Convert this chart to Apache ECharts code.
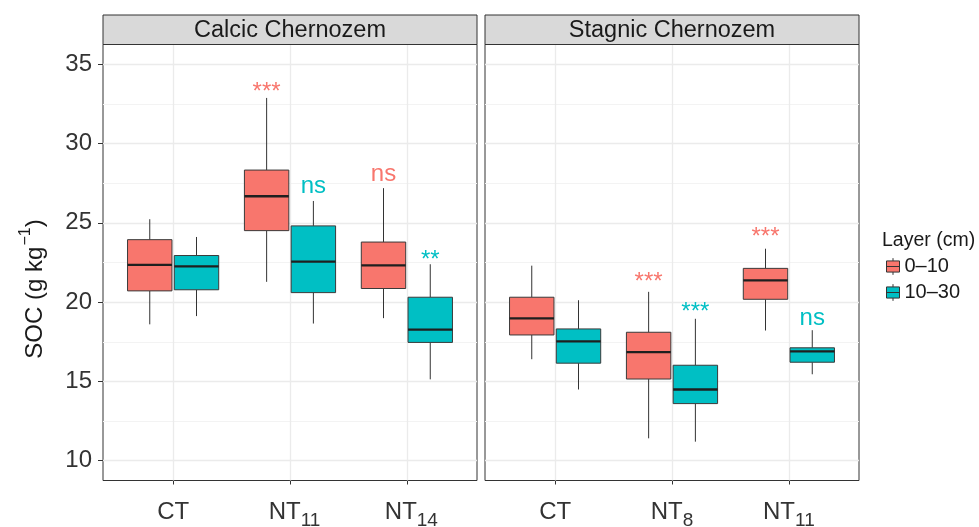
<!DOCTYPE html>
<html><head><meta charset="utf-8">
<script src="https://cdn.jsdelivr.net/npm/echarts@6/dist/echarts.min.js"></script>
<style>html,body{margin:0;padding:0;background:#fff}#c{width:979px;height:527px}</style>
</head><body><div id="c"></div>
<script>
// ---------------- data ----------------
const panels = ['Calcic Chernozem', 'Stagnic Chernozem'];
const categoriesCalcic = ['CT', 'NT11', 'NT14'];
const categoriesStagnic = ['CT', 'NT8', 'NT11'];
const layers = ['0–10', '10–30'];
// each box: [whisker low, Q1, median, Q3, whisker high]
const calcic0_10  = [[18.60, 20.71, 22.35, 23.94, 25.23], [21.28, 24.51, 26.68, 28.33, 32.88], [18.99, 20.86, 22.32, 23.79, 27.19]];
const calcic10_30 = [[19.12, 20.78, 22.26, 22.94, 24.11], [18.65, 20.60, 22.56, 24.81, 26.38], [15.13, 17.46, 18.27, 20.31, 22.39]];
const stagnic0_10  = [[16.40, 17.93, 18.97, 20.31, 22.30], [11.41, 15.15, 16.85, 18.10, 20.65], [18.21, 20.18, 21.37, 22.13, 23.37]];
const stagnic10_30 = [[14.49, 16.15, 17.53, 18.31, 20.12], [11.20, 13.60, 14.49, 16.02, 18.95], [15.45, 16.21, 16.89, 17.12, 18.23]];
// significance labels and their y positions
const calcicSig0_10  = ['', '***', 'ns'];
const calcicSigY0_10 = [null, 33.22, 28.07];
const calcicSig10_30  = ['', 'ns', '**'];
const calcicSigY10_30 = [null, 27.30, 22.65];
const stagnicSig0_10  = ['', '***', '***'];
const stagnicSigY0_10 = [null, 21.27, 24.06];
const stagnicSig10_30  = ['', '***', 'ns'];
const stagnicSigY10_30 = [null, 19.35, 18.97];
const yTicks = [10, 15, 20, 25, 30, 35];
const yMinorTicks = [12.5, 17.5, 22.5, 27.5, 32.5];
const xTicks = [1, 2, 3];
const yTitle = 'SOC (g kg';
const legendTitle = 'Layer (cm)';

// ---------------- styling ----------------
const FONT = '"Liberation Sans", Arial, Helvetica, sans-serif';
const RED = '#F8766D', TEAL = '#00BFC4';
const DODGE = 0.2, BOX_W = 0.38;
const GRID_TOP = 44.5, GRID_H = 436;
const grids = [{left: 103, width: 374}, {left: 485, width: 374}];

function makeRender(offset, sigText, sigY, color) {
  return function (params, api) {
    const xv = api.value(0) + offset;
    const low = api.coord([xv, api.value(1)]);
    const q1 = api.coord([xv, api.value(2)]);
    const med = api.coord([xv, api.value(3)]);
    const q3 = api.coord([xv, api.value(4)]);
    const high = api.coord([xv, api.value(5)]);
    const w = api.size([BOX_W, 0])[0];
    const cx = low[0];
    const ch = [
      {type: 'line', shape: {x1: cx, y1: high[1], x2: cx, y2: q3[1]}, style: {stroke: '#333', lineWidth: 1}},
      {type: 'line', shape: {x1: cx, y1: q1[1], x2: cx, y2: low[1]}, style: {stroke: '#333', lineWidth: 1}},
      {type: 'rect', shape: {x: cx - w / 2, y: q3[1], width: w, height: q1[1] - q3[1]}, style: {fill: color, stroke: '#3a3a3a', lineWidth: 1}},
      {type: 'line', shape: {x1: cx - w / 2, y1: med[1], x2: cx + w / 2, y2: med[1]}, style: {stroke: '#1f1f1f', lineWidth: 2.3}}
    ];
    const i = params.dataIndex;
    if (sigText[i]) {
      const p = api.coord([xv, sigY[i]]);
      ch.push({type: 'text', x: cx, y: p[1], style: {text: sigText[i], fill: color, fontSize: 24, fontFamily: FONT, align: 'center', verticalAlign: 'middle'}});
    }
    return {type: 'group', children: ch};
  };
}

function boxData(arr) { return arr.map((b, i) => [i + 1].concat(b)); }

function gridLines() {
  const major = {color: '#EBEBEB', width: 1.3, type: 'solid'};
  const minor = {color: '#F3F3F3', width: 1, type: 'solid'};
  return {
    silent: true, symbol: ['none', 'none'], label: {show: false}, z: 1, animation: false,
    emphasis: {disabled: true},
    data: yMinorTicks.map(v => ({yAxis: v, lineStyle: minor}))
      .concat(yTicks.map(v => ({yAxis: v, lineStyle: major})))
      .concat(xTicks.map(v => ({xAxis: v, lineStyle: major})))
  };
}

function xLabel(cats, shiftNT) {
  return function (v) {
    const name = cats[Math.round(v) - 1];
    const m = name.match(/^([A-Z]+)(\d*)$/);
    if (!m[2]) return '{m|' + m[1] + '}';
    return '{' + (shiftNT ? 'mp' : 'm') + '|' + m[1] + '}{s|' + m[2] + '}';
  };
}
const xRich = {
  m: {fontSize: 24, fontFamily: FONT, color: '#333', lineHeight: 24, verticalAlign: 'top'},
  mp: {fontSize: 24, fontFamily: FONT, color: '#333', lineHeight: 24, verticalAlign: 'top', padding: [0, 0, 0, 9]},
  s: {fontSize: 19, fontFamily: FONT, color: '#333', lineHeight: 19, verticalAlign: 'top', padding: [11, 0, 0, 0]}
};

const xAxes = [categoriesCalcic, categoriesStagnic].map((cats, gi) => ({
  type: 'value', gridIndex: gi, min: 0.4, max: 3.6,
  axisLine: {show: false},
  axisTick: {show: true, customValues: xTicks, length: 4, lineStyle: {color: '#333', width: 1}},
  axisLabel: {show: true, customValues: xTicks, margin: 20, formatter: xLabel(cats, gi === 0), rich: xRich},
  splitLine: {show: false}
}));
const yAxes = [0, 1].map(gi => ({
  type: 'value', gridIndex: gi, min: 8.75, max: 36.25,
  axisLine: {show: false},
  axisTick: {show: gi === 0, customValues: yTicks, length: 5, lineStyle: {color: '#333', width: 1}},
  axisLabel: {show: gi === 0, customValues: yTicks, margin: 11, fontSize: 24, fontFamily: FONT, color: '#333'},
  splitLine: {show: false}
}));

const seriesSpec = [
  [0, layers[0], calcic0_10, -DODGE, calcicSig0_10, calcicSigY0_10, RED],
  [0, layers[1], calcic10_30, DODGE, calcicSig10_30, calcicSigY10_30, TEAL],
  [1, layers[0], stagnic0_10, -DODGE, stagnicSig0_10, stagnicSigY0_10, RED],
  [1, layers[1], stagnic10_30, DODGE, stagnicSig10_30, stagnicSigY10_30, TEAL]
];
const series = seriesSpec.map((s, k) => {
  const o = {
    type: 'custom', name: s[1], xAxisIndex: s[0], yAxisIndex: s[0], z: 2,
    itemStyle: {color: s[6]},
    encode: {x: 0, y: [1, 2, 3, 4, 5]},
    renderItem: makeRender(s[3], s[4], s[5], s[6]),
    data: boxData(s[2])
  };
  if (k % 2 === 0) o.markLine = gridLines();
  return o;
});

const ICON = 'path://M7,0L7,3M0,3L14,3L14,15L0,15ZM0,9L14,9M7,15L7,18';

const graphics = [];
grids.forEach((g, i) => {
  graphics.push({type: 'rect', shape: {x: g.left, y: 15, width: g.width, height: GRID_TOP - 15}, style: {fill: '#D9D9D9', stroke: '#333', lineWidth: 1}, z: 10});
  graphics.push({type: 'text', x: g.left + g.width / 2, y: 30.5, style: {text: panels[i], fontSize: 23.5, fontFamily: FONT, fill: '#1A1A1A', align: 'center', verticalAlign: 'middle'}, z: 11});
});
graphics.push({
  type: 'text', x: 27, y: 289, rotation: Math.PI / 2,
  style: {
    text: '{a|' + yTitle + '}{b|−1}{a|)}', align: 'center', verticalAlign: 'middle', fill: '#1A1A1A',
    rich: {
      a: {fontSize: 24, fontFamily: FONT, fill: '#1A1A1A', lineHeight: 24, verticalAlign: 'top', padding: [8, 0, 0, 0]},
      b: {fontSize: 16, fontFamily: FONT, fill: '#1A1A1A', lineHeight: 17, verticalAlign: 'top', padding: [3, 0, 0, 1]}
    }
  }
});
graphics.push({type: 'text', x: 882, y: 241, style: {text: legendTitle, fontSize: 19.5, fontFamily: FONT, fill: '#1A1A1A', align: 'left', verticalAlign: 'middle'}});

const chart = echarts.init(document.getElementById('c'), null, {renderer: 'canvas'});
chart.setOption({
  animation: false,
  backgroundColor: '#fff',
  grid: grids.map(g => ({left: g.left, top: GRID_TOP, width: g.width, height: GRID_H, show: true, borderColor: '#333', borderWidth: 1, backgroundColor: 'transparent', containLabel: false, outerBoundsMode: 'none'})),
  xAxis: xAxes,
  yAxis: yAxes,
  legend: {
    orient: 'vertical', left: 886, top: 256.5, itemWidth: 13, itemHeight: 17, itemGap: 6, padding: 0,
    selectedMode: false,
    textStyle: {fontSize: 20, fontFamily: FONT, color: '#1A1A1A'},
    data: [
      {name: layers[0], icon: ICON, itemStyle: {color: RED, borderColor: '#333', borderWidth: 1}},
      {name: layers[1], icon: ICON, itemStyle: {color: TEAL, borderColor: '#333', borderWidth: 1}}
    ]
  },
  graphic: graphics,
  series: series
});
</script></body></html>
